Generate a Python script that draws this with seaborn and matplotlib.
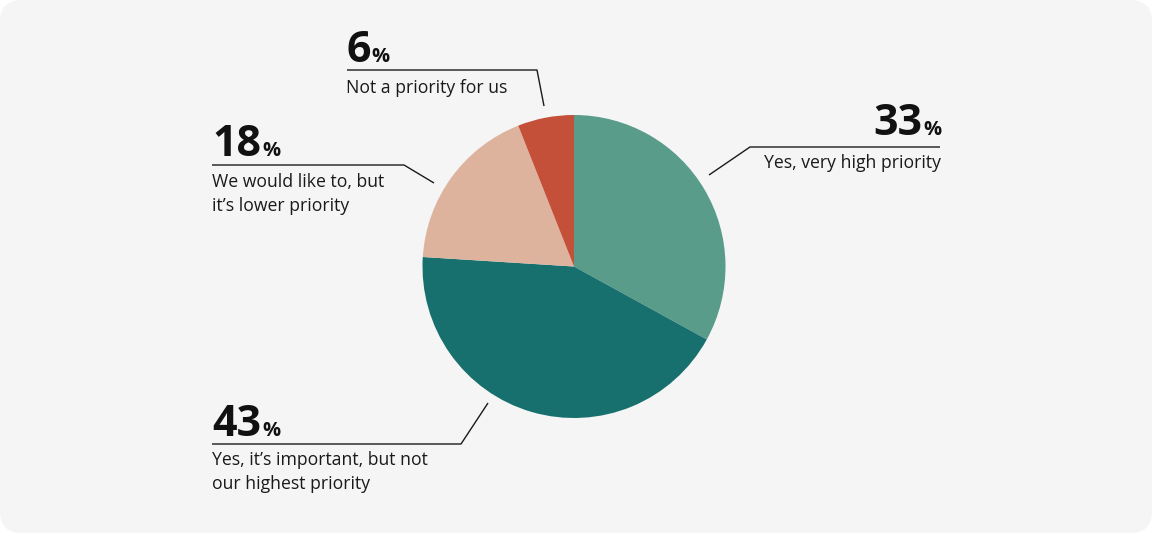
import matplotlib
matplotlib.use("Agg")
import matplotlib.pyplot as plt
from matplotlib.patches import FancyBboxPatch
import seaborn as sns

# survey answers, clockwise from 12 o'clock
answers = [
    "Yes, very high priority",
    "Yes, it\u2019s important, but not\nour highest priority",
    "We would like to, but\nit\u2019s lower priority",
    "Not a priority for us",
]
shares = [33, 43, 18, 6]
slice_colors = ["#5a9c8a", "#17706e", "#deb39e", "#c4503a"]

W, H = 1152, 533
sns.set_theme(style="white")
plt.rcParams["font.family"] = ["Open Sans", "DejaVu Sans"]

fig = plt.figure(figsize=(W / 100, H / 100), dpi=100, facecolor="white")
ax = fig.add_axes([0, 0, 1, 1])

ax.pie(shares, colors=slice_colors, startangle=90, counterclock=False,
       center=(574, H - 266.5), radius=151.5,
       wedgeprops=dict(linewidth=0))

bg = FancyBboxPatch((0, 0), W, H, boxstyle="round,pad=0,rounding_size=22",
                    facecolor="#f5f5f5", edgecolor="none", zorder=-5)
ax.add_patch(bg)

ax.set_xlim(0, W)
ax.set_ylim(0, H)
ax.set_aspect("equal", adjustable="box")
ax.axis("off")

# callout layout in image pixels (y from top): number baseline, baseline of
# the label's last line, text alignment, leader line points
callouts = [
    dict(num=(941, 135), lab=(941, 168), ha="right",
         line=[(940, 147), (750, 147), (709, 175)]),
    dict(num=(212, 436), lab=(212, 489), ha="left",
         line=[(212, 444), (461, 444), (488, 403)]),
    dict(num=(212, 156), lab=(212, 211), ha="left",
         line=[(212, 165), (404, 165), (434, 183)]),
    dict(num=(346, 62), lab=(346, 93), ha="left",
         line=[(347, 70), (537, 70), (544, 106)]),
]

fig.canvas.draw()
renderer = fig.canvas.get_renderer()

for share, answer, c in zip(shares, answers, callouts):
    xs = [p[0] for p in c["line"]]
    ys = [H - p[1] for p in c["line"]]
    ax.plot(xs, ys, color="#1a1a1a", lw=1.0, solid_capstyle="butt")

    nx, ny = c["num"]
    if c["ha"] == "left":
        t = ax.text(nx, H - ny, str(share), fontsize=31, fontweight="bold",
                    ha="left", va="baseline", color="#111111")
        x1 = t.get_window_extent(renderer).x1
        ax.text(x1 + 1, H - ny, "%", fontsize=14.5, fontweight="bold",
                ha="left", va="baseline", color="#111111")
    else:
        p = ax.text(nx, H - ny, "%", fontsize=14.5, fontweight="bold",
                    ha="right", va="baseline", color="#111111")
        x0 = p.get_window_extent(renderer).x0
        ax.text(x0 - 1, H - ny, str(share), fontsize=31, fontweight="bold",
                ha="right", va="baseline", color="#111111")

    lx, ly = c["lab"]
    ax.text(lx, H - ly, answer, fontsize=12.7, ha=c["ha"], va="baseline",
            color="#1a1a1a", linespacing=1.4, multialignment="left")

fig.savefig("out.png", dpi=100, facecolor="white")
